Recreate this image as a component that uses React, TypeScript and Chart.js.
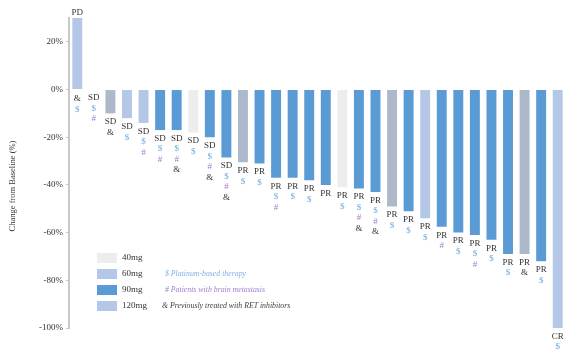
import React, { useEffect, useRef } from "react";
import { Chart, registerables } from "chart.js";
Chart.register(...registerables);

const patients = Array.from({ length: 30 }, (_, i) => `P${i + 1}`);
const changes = [
  30, 0, -10, -12, -14, -17, -17, -18, -20, -28.5, -30.5, -31, -37, -37, -38,
  -40, -41, -41.5, -43, -49, -51, -54, -57.5, -60, -61, -63, -69, -69, -72, -100,
];
const shades = [
  "light", "light", "slate", "light", "light", "blue", "blue", "gray", "blue", "blue",
  "slate", "blue", "blue", "blue", "blue", "blue", "gray", "blue", "blue", "slate",
  "blue", "light", "blue", "blue", "blue", "blue", "blue", "slate", "blue", "light",
];
const responses = [
  "PD", "SD", "SD", "SD", "SD", "SD", "SD", "SD", "SD", "SD",
  "PR", "PR", "PR", "PR", "PR", "PR", "PR", "PR", "PR", "PR",
  "PR", "PR", "PR", "PR", "PR", "PR", "PR", "PR", "PR", "CR",
];
const markers = [
  "&$", "$#", "&", "$", "$#", "$#", "$#&", "$", "$#&", "$#&",
  "$", "$", "$#", "$", "$", "", "$", "$#&", "$#&", "$",
  "$", "$", "#", "$", "$#", "$", "$", "&", "$", "$",
];
const yTicks = [20, 0, -20, -40, -60, -80, -100];
const legendDoses = ["40mg", "60mg", "90mg", "120mg"];
const legendShades = ["gray", "light", "blue", "light"];
const footnotes = [
  "$ Platinum-based therapy",
  "# Patients with brain metastasis",
  "& Previously treated with RET inhibitors",
];

const shadeColors: Record<string, string> = {
  gray: "#ededed",
  light: "#b4c7e7",
  blue: "#5b9bd5",
  slate: "#adb9ca",
};
const markerColors: Record<string, string> = {
  $: "#6fa8e0",
  "#": "#a07fd0",
  "&": "#333333",
};
const footColors = ["#7fb2e5", "#a07fd0", "#404040"];
const SERIF = "'Liberation Serif', 'Times New Roman', serif";

const labelPlugin = {
  id: "barLabels",
  afterDatasetsDraw(chart: any) {
    const ctx = chart.ctx;
    const meta = chart.getDatasetMeta(0);
    const yZero = chart.scales.y.getPixelForValue(0);
    ctx.save();
    ctx.textAlign = "center";
    ctx.textBaseline = "top";
    meta.data.forEach((el: any, i: number) => {
      const v = changes[i];
      const lh = 10.5;
      let y: number;
      ctx.font = `9px ${SERIF}`;
      ctx.fillStyle = "#333333";
      if (v > 0) {
        ctx.textBaseline = "bottom";
        ctx.fillText(responses[i], el.x, el.y - 1);
        ctx.textBaseline = "top";
        y = yZero + 5;
      } else {
        ctx.fillText(responses[i], el.x, el.y + 4);
        y = el.y + 4 + lh;
      }
      for (const m of markers[i].split("")) {
        ctx.fillStyle = markerColors[m];
        ctx.font = `9px ${SERIF}`;
        ctx.fillText(m, el.x, y);
        y += lh;
      }
    });
    ctx.restore();
  },
  afterDraw(chart: any) {
    const ctx = chart.ctx;
    ctx.save();
    ctx.translate(13, 186);
    ctx.rotate(-Math.PI / 2);
    ctx.textAlign = "center";
    ctx.textBaseline = "middle";
    ctx.fillStyle = "#333333";
    ctx.font = `8.5px ${SERIF}`;
    ctx.fillText("Change from Baseline (%)", 0, 0);
    ctx.restore();

    ctx.save();
    const boxX = 97;
    const rows = [258, 274, 290, 306];
    legendDoses.forEach((d, i) => {
      ctx.fillStyle = shadeColors[legendShades[i]];
      ctx.fillRect(boxX, rows[i] - 5, 20, 10);
      ctx.fillStyle = "#333333";
      ctx.font = `9px ${SERIF}`;
      ctx.textAlign = "left";
      ctx.textBaseline = "middle";
      ctx.fillText(d, 122, rows[i]);
    });
    const fx = [165, 165, 162];
    footnotes.forEach((t, i) => {
      ctx.fillStyle = footColors[i];
      ctx.font = `italic 7.8px ${SERIF}`;
      ctx.textAlign = "left";
      ctx.textBaseline = "middle";
      ctx.fillText(t, fx[i], rows[i + 1]);
    });
    ctx.restore();
  },
};

export default function App() {
  const ref = useRef<HTMLCanvasElement | null>(null);
  useEffect(() => {
    if (!ref.current) return;
    const chart = new Chart(ref.current, {
      type: "bar",
      data: {
        labels: patients,
        datasets: [
          {
            data: changes,
            backgroundColor: shades.map((s) => shadeColors[s]),
            borderWidth: 0,
            barPercentage: 0.6,
            categoryPercentage: 1,
          },
        ],
      },
      options: {
        animation: false,
        responsive: false,
        layout: { padding: { top: 18, bottom: 26, left: 0, right: 2 } },
        plugins: { legend: { display: false }, tooltip: { enabled: false } },
        scales: {
          x: { display: false, offset: true },
          y: {
            min: -100,
            max: 30,
            afterBuildTicks: (scale: any) => {
              scale.ticks = yTicks.map((v) => ({ value: v }));
            },
            afterFit: (scale: any) => {
              scale.width = 69;
            },
            border: { display: true, color: "#c8c8c8", width: 2 },
            grid: {
              drawOnChartArea: false,
              drawTicks: true,
              tickLength: 3,
              color: "#c8c8c8",
            },
            ticks: {
              padding: 3,
              color: "#333333",
              font: { family: SERIF, size: 9 },
              callback: (v: any) => `${v}%`,
            },
          },
        },
      },
      plugins: [labelPlugin],
    });
    return () => chart.destroy();
  }, []);
  return (
    <div style={{ position: "fixed", left: 0, top: 0, width: 568, height: 354, background: "#fff" }}>
      <canvas ref={ref} width={568} height={354} />
    </div>
  );
}
